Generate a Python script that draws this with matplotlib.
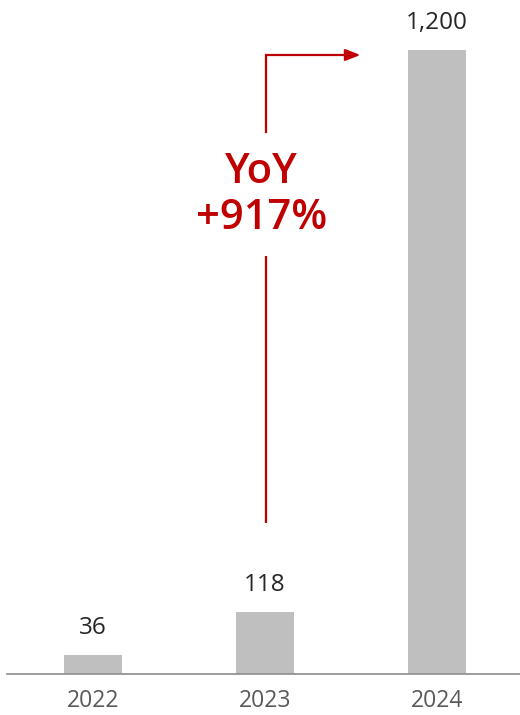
import matplotlib
matplotlib.use("Agg")
import matplotlib.pyplot as plt

years = ["2022", "2023", "2024"]
values = [36, 118, 1200]
value_labels = ["36", "118", "1,200"]
yoy_text = "YoY\n+917%"

plt.rcParams['font.family'] = ['Open Sans', 'DejaVu Sans']

W, H = 520, 715
fig = plt.figure(figsize=(W / 100, H / 100), dpi=100)
base_px = 673.5
top_px = 50.0
ax = fig.add_axes([7 / W, (H - base_px) / H, 513 / W, base_px / H])

x = list(range(len(years)))
ax.bar(x, values, width=0.337, color="#bfbfbf", zorder=2)
ax.set_xlim(-0.5, -0.5 + 513 / 172)
ymax = max(values) * base_px / (base_px - top_px)
ax.set_ylim(0, ymax)

for xi, v, lab in zip(x, values, value_labels):
    ax.annotate(lab, (xi, v), xytext=(0, 27), textcoords="offset pixels",
                ha="center", va="center", fontsize=17.5, color="#262626")

for s in ["top", "right", "left"]:
    ax.spines[s].set_visible(False)
ax.spines["bottom"].set_color("#8c8c8c")
ax.spines["bottom"].set_linewidth(1.2)
ax.set_yticks([])
ax.set_xticks(x)
ax.set_xticklabels(years, fontsize=16.5, color="#595959")
ax.tick_params(axis="x", length=0, pad=11)

red = "#c00000"
px = lambda p: (base_px - p) / (base_px - top_px) * max(values)
xline = 1.005
ax.plot([xline, xline], [px(523), px(256)], color=red, lw=1.6, solid_capstyle="butt")
ax.plot([xline, xline, 1.50], [px(132), px(55), px(55)], color=red, lw=1.6,
        solid_joinstyle="miter")
ax.annotate("", xy=(1.555, px(55)), xytext=(1.48, px(55)),
            arrowprops=dict(arrowstyle="-|>,head_length=0.9,head_width=0.35",
                            color=red, lw=1.6, shrinkA=0, shrinkB=0))
ax.text(0.98, px(195), yoy_text, ha="center", va="center", fontsize=30,
        color=red, linespacing=1.15, fontweight="semibold")

fig.savefig("out.png", dpi=100)
